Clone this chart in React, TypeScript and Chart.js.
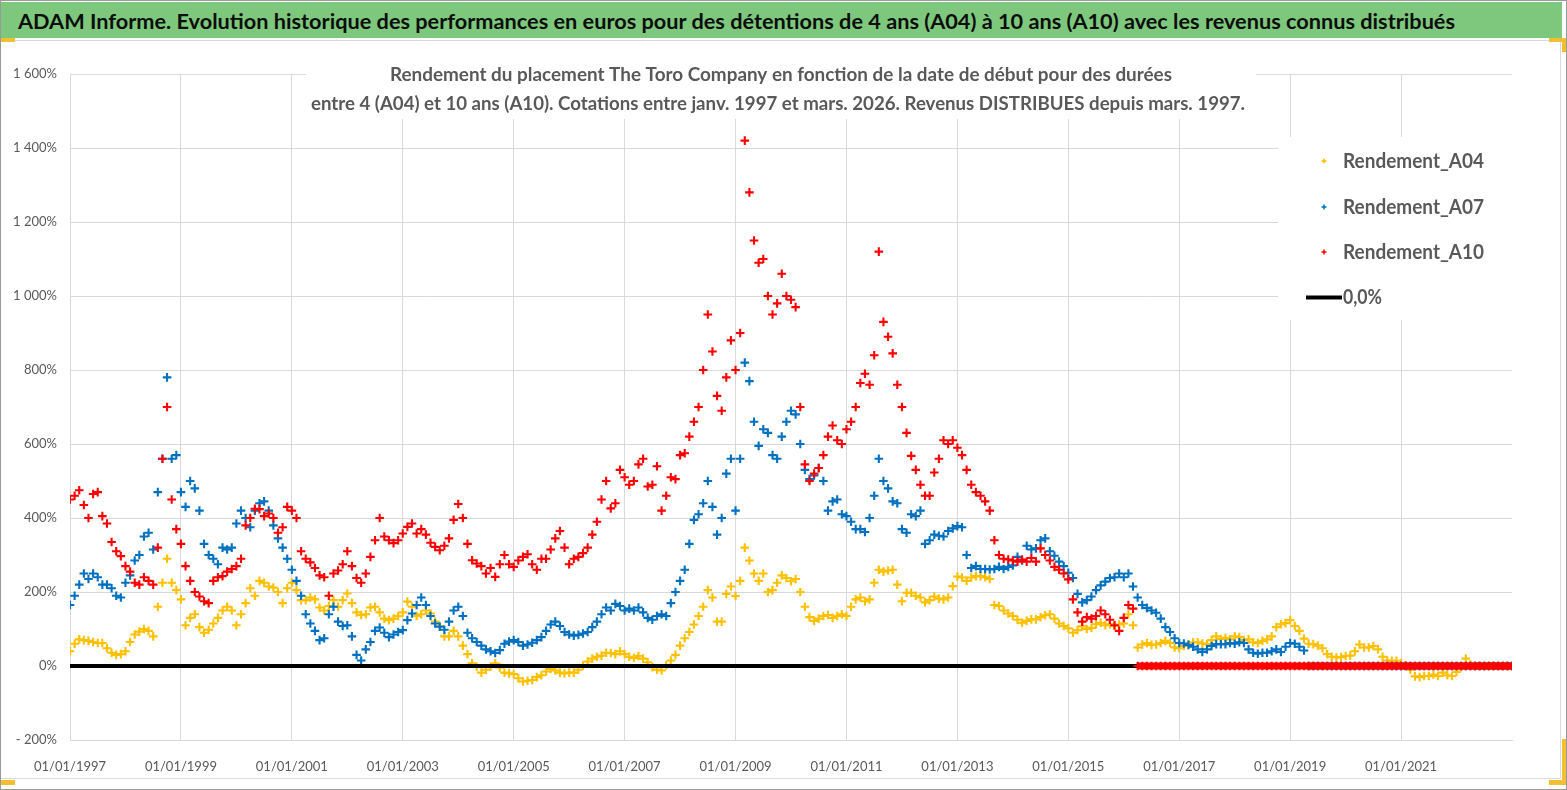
import React, { useEffect, useLayoutEffect, useRef } from 'react';
import { Chart, registerables } from 'chart.js';

Chart.register(...registerables);
Chart.defaults.font.family = 'Lato, "Open Sans", sans-serif';

const BANNER_TEXT =
  'ADAM Informe. Evolution historique des performances en euros pour des détentions de 4 ans (A04) à 10 ans (A10) avec les revenus connus distribués';
const SUBTITLE_LINES = [
  'Rendement du placement The Toro Company en fonction de la date de début pour des durées',
  'entre 4 (A04) et 10 ans (A10). Cotations entre janv. 1997 et mars. 2026. Revenus DISTRIBUES depuis mars. 1997.',
];

const START_YEAR = 1997; // first monthly value = 01/1997, one value per month
const X_MIN = 1997;
const X_MAX = 2023;
const X_STEP = 2;
const Y_MIN = -200;
const Y_MAX = 1600;
const Y_STEP = 200;

const SERIES_LABELS = ['Rendement_A04', 'Rendement_A07', 'Rendement_A10'];
const SERIES_COLORS = ['#FFC000', '#0070C0', '#FF0000'];
const ZERO_LABEL = '0,0%';
const ZERO_LINE_X = [1997, 2023];
const ZERO_LINE_Y = [0, 0];

// Monthly readings (%), starting January 1997
const A04 = [
  40, 60, 72, 70, 68, 65, 62, 62, 48, 36, 30, 32,
  40, 65, 85, 93, 100, 95, 80, 160, 225, 290, 225, 205,
  180, 110, 130, 140, 105, 90, 98, 115, 130, 150, 160, 150,
  110, 140, 170, 210, 190, 230, 225, 215, 212, 200, 170, 210,
  225, 205, 178, 178, 185, 180, 158, 150, 162, 178, 160, 178,
  196, 170, 145, 138, 140, 158, 160, 145, 128, 124, 128, 135,
  145, 174, 160, 135, 140, 150, 142, 120, 108, 80, 80, 95,
  80, 55, 32, 7, -2, -18, -10, -2, 7, -4, -18, -20,
  -22, -33, -42, -40, -38, -30, -25, -15, -8, -12, -18, -20,
  -18, -18, -10, 1, 12, 20, 25, 28, 36, 35, 32, 40,
  32, 25, 22, 27, 20, 10, -3, -10, -12, 2, 15, 30,
  55, 75, 92, 112, 135, 160, 205, 185, 120, 120, 195, 215,
  189, 230, 320, 285, 250, 230, 250, 200, 205, 225, 245, 238,
  229, 235, 200, 160, 132, 122, 128, 135, 138, 130, 135, 140,
  135, 160, 180, 185, 175, 180, 225, 260, 255, 258, 260, 220,
  175, 198, 198, 190, 185, 172, 178, 188, 182, 180, 185, 216,
  242, 239, 230, 239, 243, 243, 240, 235, 165, 162, 150, 142,
  135, 125, 117, 122, 126, 126, 132, 137, 140, 128, 115, 108,
  102, 90, 97, 107, 100, 103, 113, 117, 110, 113, 108, 112,
  115, 140, 110, 50, 58, 62, 57, 58, 62, 68, 62, 50,
  48, 54, 58, 64, 64, 61, 59, 70, 80, 73, 76, 72,
  80, 78, 70, 72, 64, 62, 68, 72, 80, 105, 113, 116,
  124, 108, 95, 74, 60, 59, 55, 48, 32, 25, 23, 24,
  27, 28, 40, 58, 50, 50, 54, 45, 25, 15, 14, 14,
  8, 2, -10, -28, -30, -27, -27, -23, -27, -18, -25, -27,
  -16, -3, 20, 4, 0, 0, 0, 0, 0, 0, 0, 0,
  0,
];

const A07 = [
  165, 190, 220, 250, 235, 250, 240, 220, 220, 210, 190, 185,
  225, 245, 285, 300, 350, 360, 315, 470, 560, 780, 560, 570,
  470, 430, 500, 480, 420, 330, 300, 290, 275, 320, 315, 320,
  385, 420, 400, 375, 420, 440, 445, 420, 380, 345, 320, 290,
  260, 230, 190, 140, 115, 95, 70, 75, 140, 160, 120, 108,
  110, 80, 30, 15, 45, 65, 95, 104, 90, 78, 85, 92,
  97, 124, 142, 165, 185, 165, 135, 115, 106, 98, 120, 150,
  160, 135, 90, 75, 65, 55, 45, 40, 35, 43, 60, 66,
  70, 65, 55, 58, 63, 70, 78, 95, 112, 120, 108, 92,
  85, 82, 84, 88, 92, 105, 120, 140, 158, 150, 168, 162,
  150, 155, 150, 158, 145, 130, 125, 135, 140, 135, 170, 200,
  230, 260, 330, 395, 410, 440, 500, 430, 355, 400, 520, 560,
  420, 560, 820, 770, 660, 595, 640, 630, 570, 560, 620, 660,
  690, 680, 600, 530, 505, 515, 535, 500, 420, 445, 450, 410,
  405, 390, 370, 370, 362, 400, 460, 560, 500, 480, 445, 440,
  370, 360, 410, 405, 420, 330, 340, 355, 352, 350, 365, 372,
  378, 375, 300, 265, 270, 262, 262, 261, 262, 268, 262, 268,
  272, 295, 285, 325, 315, 318, 340, 345, 310, 298, 282, 270,
  252, 238, 195, 172, 178, 188, 205, 218, 228, 238, 240, 250,
  240, 250, 215, 185, 165, 157, 150, 144, 128, 105, 92, 75,
  62, 61, 57, 52, 45, 38, 45, 54, 59, 59, 59, 62,
  60, 64, 62, 45, 36, 33, 36, 36, 40, 45, 38, 52,
  62, 60, 52, 42, 0, 0, 0, 0, 0, 0, 0, 0,
  0, 0, 0, 0, 0, 0, 0, 0, 0, 0, 0, 0,
  0, 0, 0, 0, 0, 0, 0, 0, 0, 0, 0, 0,
  0, 0, 0, 0, 0, 0, 0, 0, 0, 0, 0, 0,
  0,
];

const A10 = [
  450, 460, 475, 435, 400, 465, 470, 405, 385, 335, 310, 297,
  270, 255, 225, 220, 240, 230, 220, 320, 560, 700, 450, 370,
  330, 270, 230, 200, 188, 175, 170, 230, 240, 243, 255, 262,
  270, 290, 380, 400, 425, 424, 405, 412, 400, 360, 375, 430,
  420, 400, 310, 290, 280, 265, 245, 240, 190, 250, 258, 275,
  310, 270, 238, 225, 250, 295, 340, 400, 350, 340, 332, 340,
  358, 376, 385, 358, 370, 355, 333, 322, 313, 325, 345, 395,
  438, 400, 330, 286, 277, 270, 250, 265, 241, 275, 300, 275,
  268, 285, 295, 302, 275, 260, 290, 290, 315, 345, 365, 320,
  275, 290, 295, 305, 320, 355, 390, 450, 500, 426, 440, 530,
  510, 490, 500, 545, 560, 485, 490, 540, 420, 460, 510, 505,
  570, 575, 620, 660, 700, 800, 950, 850, 730, 690, 780, 880,
  800, 900, 1420, 1280, 1150, 1090, 1100, 1000, 950, 980, 1060, 1000,
  990, 970, 700, 545, 500, 520, 535, 570, 620, 650, 610, 600,
  640, 660, 700, 765, 790, 760, 840, 1120, 930, 890, 845, 760,
  700, 630, 568, 530, 490, 460, 460, 523, 560, 610, 600, 610,
  590, 570, 530, 490, 470, 460, 445, 420, 340, 300, 290, 288,
  285, 282, 288, 282, 292, 282, 318, 300, 285, 268, 260, 250,
  234, 180, 145, 120, 132, 128, 135, 150, 140, 125, 110, 95,
  130, 165, 155, 0, 0, 0, 0, 0, 0, 0, 0, 0,
  0, 0, 0, 0, 0, 0, 0, 0, 0, 0, 0, 0,
  0, 0, 0, 0, 0, 0, 0, 0, 0, 0, 0, 0,
  0, 0, 0, 0, 0, 0, 0, 0, 0, 0, 0, 0,
  0, 0, 0, 0, 0, 0, 0, 0, 0, 0, 0, 0,
  0, 0, 0, 0, 0, 0, 0, 0, 0, 0, 0, 0,
  0, 0, 0, 0, 0, 0, 0, 0, 0, 0, 0, 0,
  0,
];

const SERIES_VALUES = [A04, A07, A10];

function toPoints(vals: number[]) {
  return vals.map((v, i) => ({ x: START_YEAR + i / 12, y: v }));
}

function frPct(v: number): string {
  const a = Math.abs(v);
  const s = a >= 1000 ? `${Math.floor(a / 1000)} ${String(a % 1000).padStart(3, '0')}` : String(a);
  return (v < 0 ? '- ' : '') + s + '%';
}

function fitText(
  ctx: CanvasRenderingContext2D,
  text: string,
  x: number,
  y: number,
  targetW: number,
  font: string,
  color: string,
  align: 'left' | 'center'
) {
  ctx.save();
  ctx.font = font;
  ctx.fillStyle = color;
  ctx.textBaseline = 'middle';
  ctx.textAlign = 'left';
  const w = ctx.measureText(text).width || 1;
  const sx = targetW / w;
  const left = align === 'center' ? x - targetW / 2 : x;
  ctx.translate(left, y);
  ctx.scale(sx, 1);
  ctx.fillText(text, 0, 0);
  ctx.restore();
}

const TEXT_GREY = '#595959';

const overlayPlugin = {
  id: 'overlayBoxes',
  afterDraw(chart: any) {
    const ctx: CanvasRenderingContext2D = chart.ctx;
    ctx.save();
    // subtitle box
    ctx.fillStyle = '#ffffff';
    ctx.fillRect(306, 10, 950, 69);
    fitText(ctx, SUBTITLE_LINES[0], 781, 35, 782, 'bold 19px Lato', TEXT_GREY, 'center');
    fitText(ctx, SUBTITLE_LINES[1], 778, 63.5, 934, 'bold 19px Lato', TEXT_GREY, 'center');

    // legend box
    ctx.fillStyle = '#ffffff';
    ctx.fillRect(1278, 97, 234, 183);
    const rows = [121, 167, 212, 257.5];
    const widths = [141, 141, 141, 39];
    chart.data.datasets.forEach((ds: any, i: number) => {
      const y = rows[i];
      if (ds.showLegendLine) {
        ctx.strokeStyle = ds.borderColor;
        ctx.lineWidth = 4;
        ctx.beginPath();
        ctx.moveTo(1306, y);
        ctx.lineTo(1342, y);
        ctx.stroke();
      } else {
        ctx.strokeStyle = ds.pointBorderColor;
        ctx.lineWidth = 1.5;
        ctx.beginPath();
        ctx.moveTo(1321.5, y);
        ctx.lineTo(1326.5, y);
        ctx.moveTo(1324, y - 2.5);
        ctx.lineTo(1324, y + 2.5);
        ctx.stroke();
      }
      fitText(ctx, ds.label, 1343, y, widths[i], 'bold 21px Lato', TEXT_GREY, 'left');
    });
    ctx.restore();
  },
};

function buildConfig(): any {
  const seriesSets = SERIES_VALUES.map((vals, k) => ({
    type: 'scatter',
    label: SERIES_LABELS[k],
    data: toPoints(vals),
    showLine: true,
    borderWidth: 7,
    borderColor: SERIES_COLORS[k],
    backgroundColor: SERIES_COLORS[k],
    pointStyle: 'cross',
    pointRadius: 4.3,
    pointBorderWidth: 2.1,
    pointBorderColor: SERIES_COLORS[k],
    pointBackgroundColor: SERIES_COLORS[k],
    segment: {
      borderColor: (c: any) =>
        c.p0.parsed.y === 0 && c.p1.parsed.y === 0 ? SERIES_COLORS[k] : 'rgba(0,0,0,0)',
    },
    order: [3, 2, 0][k],
  }));
  const zeroSet = {
    type: 'line',
    label: ZERO_LABEL,
    data: ZERO_LINE_X.map((x, i) => ({ x, y: ZERO_LINE_Y[i] })),
    showLine: true,
    showLegendLine: true,
    borderColor: '#000000',
    borderWidth: 4,
    pointRadius: 0,
    order: 1,
  };
  return {
    type: 'scatter',
    data: { datasets: [...seriesSets, zeroSet] },
    options: {
      responsive: false,
      maintainAspectRatio: false,
      animation: false,
      events: [],
      layout: { padding: { left: 0, right: 49, top: 34, bottom: 0 } },
      plugins: {
        legend: { display: false },
        title: { display: false },
        tooltip: { enabled: false },
      },
      scales: {
        x: {
          type: 'linear',
          min: X_MIN,
          max: X_MAX,
          afterFit: (s: any) => {
            s.height = 39;
          },
          ticks: {
            stepSize: X_STEP,
            autoSkip: false,
            maxRotation: 0,
            color: TEXT_GREY,
            font: { size: 13 },
            padding: 19,
            callback: (v: any) => (Number(v) >= X_MAX ? '' : `01/01/${v}`),
          },
          grid: {
            drawTicks: false,
            lineWidth: 1,
            color: (c: any) => (c.tick && c.tick.value >= X_MAX ? 'rgba(0,0,0,0)' : '#d9d9d9'),
          },
          border: { color: '#d9d9d9' },
        },
        y: {
          min: Y_MIN,
          max: Y_MAX,
          afterFit: (s: any) => {
            s.width = 70;
          },
          ticks: {
            stepSize: Y_STEP,
            color: TEXT_GREY,
            font: { size: 13 },
            padding: 13,
            callback: (v: any) => frPct(Number(v)),
          },
          grid: { drawTicks: false, color: '#d9d9d9', lineWidth: 1 },
          border: { color: '#d9d9d9' },
        },
      },
    },
    plugins: [overlayPlugin],
  };
}

const HANDLE = '#F2BE32';

export default function App() {
  const canvasRef = useRef<HTMLCanvasElement>(null);
  const bannerRef = useRef<HTMLSpanElement>(null);

  useLayoutEffect(() => {
    const s = bannerRef.current;
    if (s) {
      s.style.transform = 'none';
      const w = s.getBoundingClientRect().width || 1;
      s.style.transform = `scaleX(${1437 / w})`;
    }
  }, []);

  useEffect(() => {
    if (!canvasRef.current) return;
    const chart = new Chart(canvasRef.current, buildConfig());
    return () => chart.destroy();
  }, []);

  return (
    <div
      style={{
        position: 'absolute',
        left: 0,
        top: 0,
        width: 1567,
        height: 790,
        background: '#ffffff',
        overflow: 'hidden',
      }}
    >
      <div
        style={{
          position: 'absolute',
          left: 1,
          top: 2,
          width: 1561,
          height: 36,
          background: '#7DC87D',
        }}
      >
        <span
          ref={bannerRef}
          style={{
            position: 'absolute',
            left: 17,
            top: 0,
            lineHeight: '38px',
            whiteSpace: 'nowrap',
            fontFamily: 'Lato, "Open Sans", sans-serif',
            fontWeight: 700,
            fontSize: 21,
            color: '#0d0d0d',
            transformOrigin: 'left center',
          }}
        >
          {BANNER_TEXT}
        </span>
      </div>
      <div
        style={{
          position: 'absolute',
          left: 0,
          top: 40,
          width: 1561,
          height: 739,
          boxSizing: 'border-box',
          border: '1px solid #d9d9d9',
        }}
      />
      <canvas
        ref={canvasRef}
        width={1561}
        height={739}
        style={{ position: 'absolute', left: 0, top: 40, width: 1561, height: 739 }}
      />
      <div style={{ position: 'absolute', left: 0, top: 38, width: 15, height: 4, background: HANDLE }} />
      <div style={{ position: 'absolute', left: 1549, top: 38, width: 17, height: 4, background: HANDLE }} />
      <div style={{ position: 'absolute', left: 1562, top: 38, width: 4, height: 14, background: HANDLE }} />
      <div style={{ position: 'absolute', left: 0, top: 780, width: 15, height: 5, background: HANDLE }} />
      <div style={{ position: 'absolute', left: 1549, top: 780, width: 17, height: 5, background: HANDLE }} />
      <div style={{ position: 'absolute', left: 1562, top: 739, width: 4, height: 46, background: HANDLE }} />
      <div
        style={{
          position: 'absolute',
          left: 0,
          top: 0,
          width: 1567,
          height: 790,
          boxSizing: 'border-box',
          border: '1px solid #9a9a9a',
          pointerEvents: 'none',
        }}
      />
    </div>
  );
}
